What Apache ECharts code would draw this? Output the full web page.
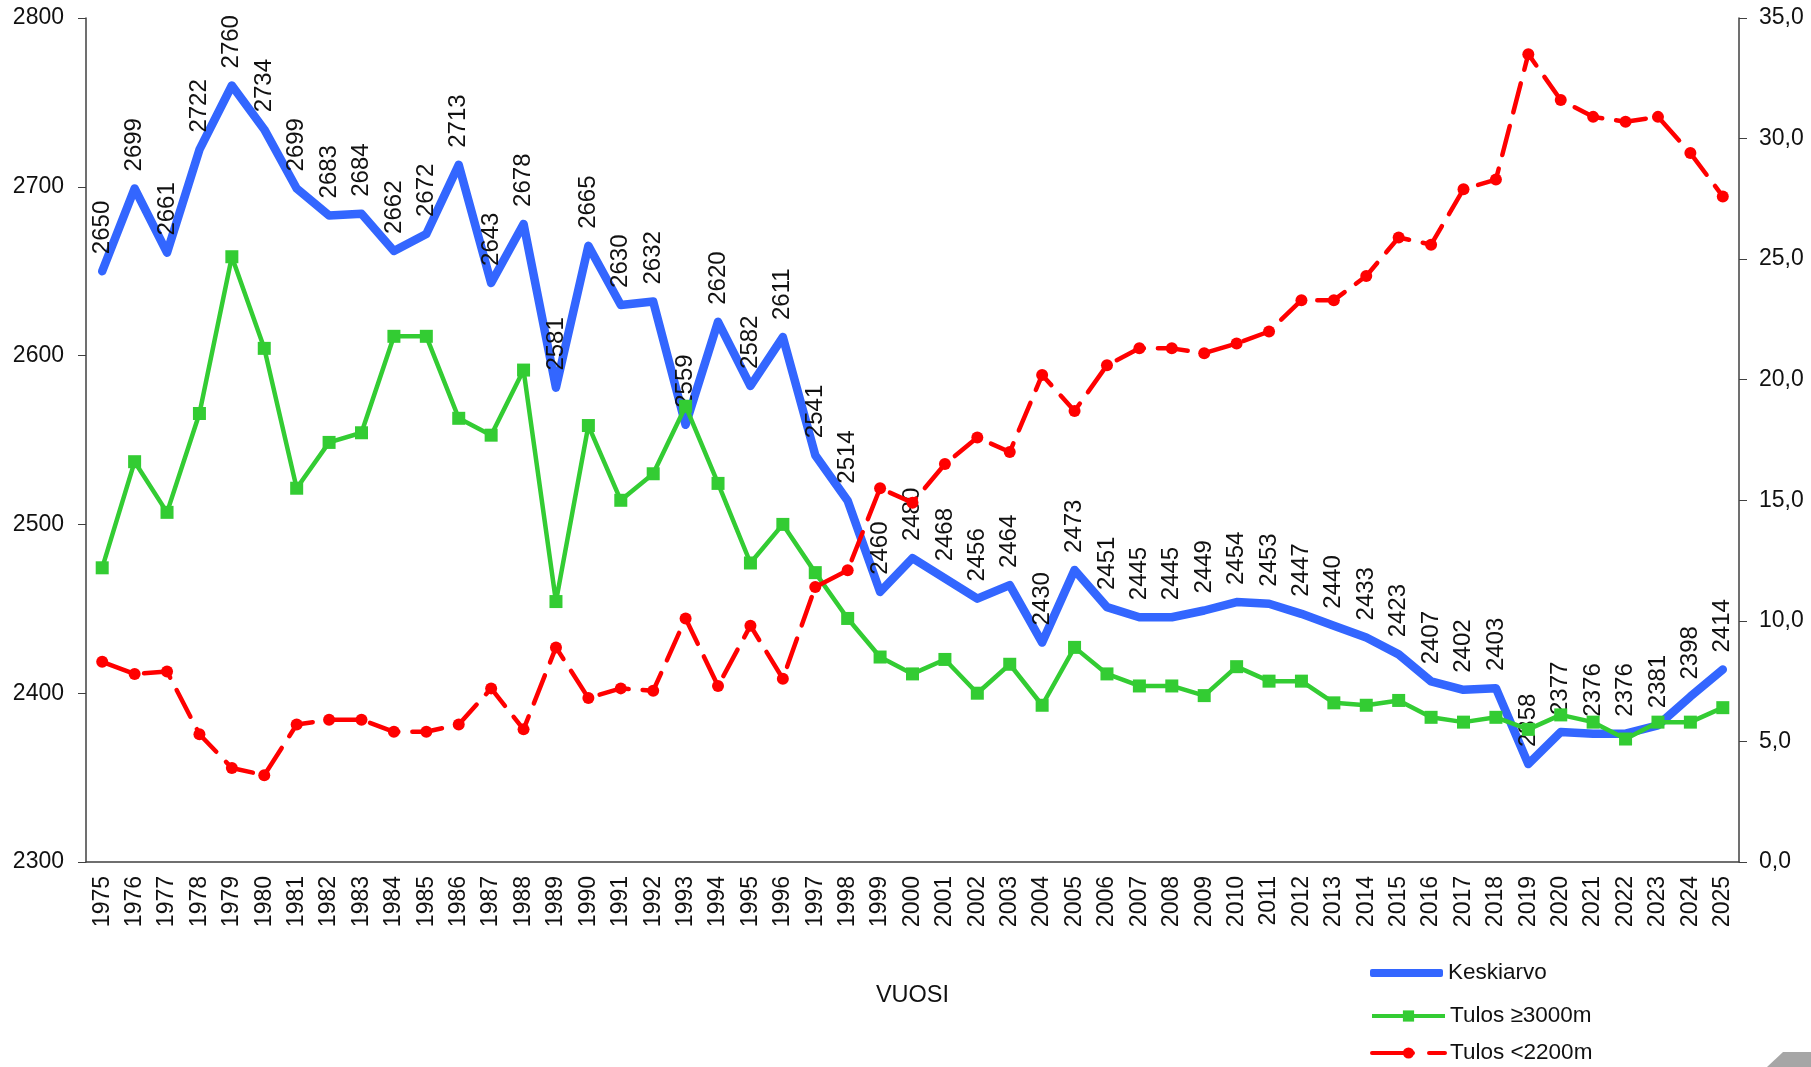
<!DOCTYPE html>
<html>
<head>
<meta charset="utf-8">
<style>
  html, body { margin: 0; padding: 0; background: #fff; }
  #chart { width: 1811px; height: 1067px; }
</style>
<script src="https://cdn.jsdelivr.net/npm/echarts@6/dist/echarts.min.js"></script>
</head>
<body>
<div id="chart"></div>
<script>
// vuodet 1975-2025
const years = [
  "1975", "1976", "1977", "1978", "1979", "1980", "1981", "1982", "1983", "1984",
  "1985", "1986", "1987", "1988", "1989", "1990", "1991", "1992", "1993", "1994",
  "1995", "1996", "1997", "1998", "1999", "2000", "2001", "2002", "2003", "2004",
  "2005", "2006", "2007", "2008", "2009", "2010", "2011", "2012", "2013", "2014",
  "2015", "2016", "2017", "2018", "2019", "2020", "2021", "2022", "2023", "2024", "2025",
];
const keskiarvo = [
  2650, 2699, 2661, 2722, 2760, 2734, 2699, 2683, 2684, 2662,
  2672, 2713, 2643, 2678, 2581, 2665, 2630, 2632, 2559, 2620,
  2582, 2611, 2541, 2514, 2460, 2480, 2468, 2456, 2464, 2430,
  2473, 2451, 2445, 2445, 2449, 2454, 2453, 2447, 2440, 2433,
  2423, 2407, 2402, 2403, 2358, 2377, 2376, 2376, 2381, 2398, 2414,
];
// osuudet (%), oikea akseli
const tulosYli3000 = [
  12.2, 16.6, 14.5, 18.6, 25.1, 21.3, 15.5, 17.4, 17.8, 21.8,
  21.8, 18.4, 17.7, 20.4, 10.8, 18.1, 15.0, 16.1, 18.9, 15.7,
  12.4, 14.0, 12.0, 10.1, 8.5, 7.8, 8.4, 7.0, 8.2, 6.5,
  8.9, 7.8, 7.3, 7.3, 6.9, 8.1, 7.5, 7.5, 6.6, 6.5,
  6.7, 6.0, 5.8, 6.0, 5.5, 6.1, 5.8, 5.1, 5.8, 5.8, 6.4,
];
const tulosAlle2200 = [
  8.3, 7.8, 7.9, 5.3, 3.9, 3.6, 5.7, 5.9, 5.9, 5.4,
  5.4, 5.7, 7.2, 5.5, 8.9, 6.8, 7.2, 7.1, 10.1, 7.3,
  9.8, 7.6, 11.4, 12.1, 15.5, 14.9, 16.5, 17.6, 17.0, 20.2,
  18.7, 20.6, 21.3, 21.3, 21.1, 21.5, 22.0, 23.3, 23.3, 24.3,
  25.9, 25.6, 27.9, 28.3, 33.5, 31.6, 30.9, 30.7, 30.9, 29.4, 27.6,
];

const font = "Liberation Sans, Arial, sans-serif";
const axisColor = "#404040";
const blue = "#3366ff";
const green = "#33cc33";
const red = "#ff0000";
const redDash = [30, 14];
const legendText = { fontSize: 22.5, color: "#111", fontFamily: font, lineHeight: 24 };

const chart = echarts.init(document.getElementById("chart"));
chart.setOption({
  animation: false,
  textStyle: { fontFamily: font },
  grid: { left: 86, right: 72, top: 18, bottom: 205 },
  // yksi selite per sarja, jotta rivit pysyvät allekkain
  legend: [
    {
      left: 1370, top: 961, padding: 0,
      itemWidth: 73, itemHeight: 8,
      textStyle: legendText,
      data: [{ name: "Keskiarvo", icon: "roundRect" }],
    },
    {
      left: 1370, top: 1004, padding: 0,
      itemWidth: 73, itemHeight: 14,
      textStyle: legendText,
      lineStyle: { width: 4, color: green },
      data: ["Tulos ≥3000m"],
    },
    {
      left: 1370, top: 1041, padding: 0,
      itemWidth: 73, itemHeight: 14,
      textStyle: legendText,
      lineStyle: { width: 4, color: red, type: [41, 16] },
      data: ["Tulos <2200m"],
    },
  ],
  xAxis: {
    type: "category",
    data: years,
    boundaryGap: true,
    name: "VUOSI",
    nameLocation: "middle",
    nameGap: 122,
    nameTextStyle: { fontSize: 23.5, color: "#111" },
    axisLine: { lineStyle: { color: axisColor, width: 1.5 } },
    axisTick: { length: 8, lineStyle: { color: axisColor } },
    axisLabel: { rotate: 90, fontSize: 23, color: "#111", margin: 14, interval: 0 },
  },
  yAxis: [
    {
      type: "value",
      min: 2300,
      max: 2800,
      interval: 100,
      splitLine: { show: false },
      axisLine: { show: true, lineStyle: { color: axisColor, width: 1.5 } },
      axisTick: { show: true, length: 8, lineStyle: { color: axisColor } },
      axisLabel: { fontSize: 23, color: "#111", margin: 22, formatter: (v) => String(v) },
    },
    {
      type: "value",
      min: 0,
      max: 35,
      interval: 5,
      splitLine: { show: false },
      axisLine: { show: true, lineStyle: { color: axisColor, width: 1.5 } },
      axisTick: { show: true, length: 8, lineStyle: { color: axisColor } },
      axisLabel: {
        fontSize: 23,
        color: "#111",
        margin: 20,
        formatter: (v) => v.toFixed(1).replace(".", ","),
      },
    },
  ],
  series: [
    {
      name: "Keskiarvo",
      type: "line",
      data: keskiarvo,
      yAxisIndex: 0,
      symbol: "circle",
      symbolSize: 0.1,
      showAllSymbol: true,
      color: blue,
      lineStyle: { width: 8.5, color: blue, cap: "round", join: "round" },
      label: {
        show: true,
        position: "top",
        rotate: 90,
        align: "left",
        verticalAlign: "middle",
        distance: 17,
        fontSize: 24,
        color: "#111",
        fontFamily: font,
      },
      labelLayout: { hideOverlap: false },
      z: 2,
    },
    {
      name: "Tulos ≥3000m",
      type: "line",
      data: tulosYli3000,
      yAxisIndex: 1,
      symbol: "rect",
      symbolSize: 13,
      showAllSymbol: true,
      color: green,
      itemStyle: { color: green },
      lineStyle: { width: 4.5, color: green },
      z: 3,
    },
    {
      name: "Tulos <2200m",
      type: "line",
      data: tulosAlle2200,
      yAxisIndex: 1,
      symbol: "circle",
      symbolSize: 12,
      showAllSymbol: true,
      color: red,
      itemStyle: { color: red },
      lineStyle: { width: 4.5, color: red, type: redDash, cap: "round" },
      z: 4,
    },
  ],
  graphic: [
    {
      type: "polygon",
      shape: { points: [[1767, 1067], [1783, 1052], [1811, 1052], [1811, 1067]] },
      style: { fill: "#a6a6a6" },
    },
  ],
});
</script>
</body>
</html>
